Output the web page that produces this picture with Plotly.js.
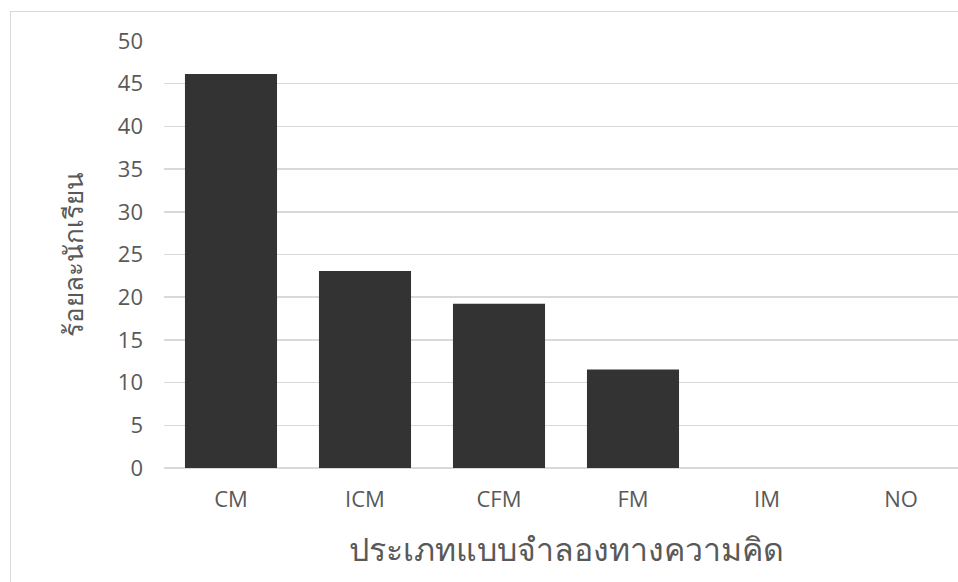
<!DOCTYPE html>
<html><head><meta charset="utf-8">
<script src="https://cdn.plot.ly/plotly-3.0.1.min.js"></script>
<style>
html,body{margin:0;padding:0;width:958px;height:582px;overflow:hidden;background:#fff;}
#frame{position:absolute;left:10px;top:11px;width:1000px;height:620px;border:1px solid #d9d9d9;box-sizing:border-box;}
#chart{position:absolute;left:0;top:0;}
</style></head>
<body>
<div id="frame"></div>
<div id="chart"></div>
<script>
const categories = ["CM", "ICM", "CFM", "FM", "IM", "NO"];
const percentages = [46.15, 23.08, 19.23, 11.54, 0, 0];
const yTickValues = [0, 5, 10, 15, 20, 25, 30, 35, 40, 45, 50];
const xTitle = "ประเภทแบบจำลองทางความคิด";
const yTitle = "ร้อยละนักเรียน";

const fontFam = '"Open Sans", "Noto Sans", "DejaVu Sans", sans-serif';
Plotly.newPlot('chart', [{
  type: 'bar',
  x: categories,
  y: percentages,
  marker: {color: '#333333'},
  hoverinfo: 'none'
}], {
  width: 980, height: 582,
  margin: {l: 164, r: 12, t: 41, b: 114},
  paper_bgcolor: 'rgba(0,0,0,0)',
  plot_bgcolor: 'rgba(0,0,0,0)',
  bargap: 0.313,
  showlegend: false,
  font: {family: fontFam, color: '#595959'},
  xaxis: {
    type: 'category',
    tickfont: {size: 22, color: '#595959'},
    ticks: '', showline: false, showgrid: false, zeroline: false,
    ticklabelstandoff: 16,
    title: {text: xTitle, font: {size: 32, color: '#595959'}, standoff: 26}
  },
  yaxis: {
    range: [0, 50],
    tickvals: yTickValues,
    tickfont: {size: 22, color: '#595959'},
    ticks: '', showline: false,
    showgrid: true, gridcolor: '#d9d9d9', gridwidth: 1.5,
    zeroline: true, zerolinecolor: '#d9d9d9', zerolinewidth: 1.5,
    ticklabelstandoff: 20,
    title: {text: yTitle, font: {size: 26, color: '#595959'}, standoff: 26}
  }
}, {displayModeBar: false, staticPlot: true});
</script>
</body></html>
